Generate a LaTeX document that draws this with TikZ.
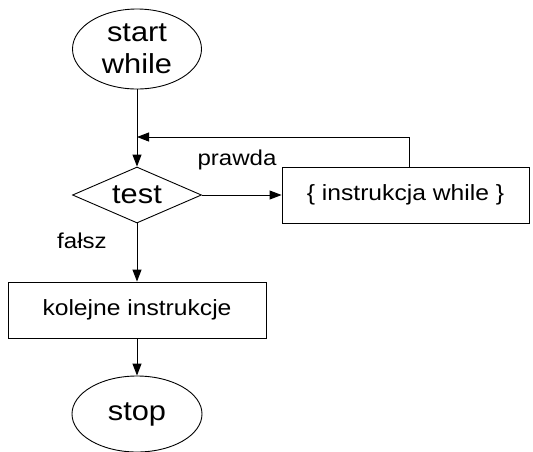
\documentclass[tikz,border=0pt]{standalone}
\usepackage{fontspec}
\setmainfont[FakeStretch=1.12]{Liberation Sans}
\usetikzlibrary{arrows.meta,shapes.geometric}

\tikzset{
  every node/.style={inner sep=0pt},
  terminal/.style={draw, ellipse, line width=0.9pt, font=\fontsize{27.5}{32}\selectfont, align=center},
  decision/.style={draw, diamond, aspect=2.3, line width=0.9pt, minimum width=129pt, minimum height=56pt, font=\fontsize{27.5}{32}\selectfont},
  process/.style={draw, rectangle, line width=0.9pt, minimum height=56pt, font=\fontsize{22}{26}\selectfont},
  edgelabel/.style={font=\fontsize{21.5}{25}\selectfont},
  flow/.style={line width=0.9pt, -{Triangle[length=12pt,width=9pt]}},
}

\begin{document}
\begin{tikzpicture}[x=1pt,y=-1pt]
  \useasboundingbox (0,0) rectangle (533,451);

  % flowchart blocks
  \node[terminal, minimum width=129pt, minimum height=80pt] (start) at (137,49) {start\\while};
  \node[decision] (test) at (137,195) {test};
  \node[process, minimum width=247pt] (body) at (405.5,195) {\{ instrukcja while \}};
  \node[process, minimum width=258pt] (next) at (137,310) {kolejne instrukcje};
  \node[terminal, minimum width=130pt, minimum height=76pt] (stop) at (137,414) {stop};

  % branch labels
  \node[edgelabel] (lbltrue) at (237,160) {prawda};
  \node[edgelabel] (lblfalse) at (82,241) {fałsz};

  % loop-back corner points
  \coordinate (loopR) at (409,137);
  \coordinate (loopL) at (137,137);

  % connectors
  \draw[flow] (start.south) -- (test.north);
  \draw[flow] (test.east) -- (body.west);
  \draw[flow] (body.north -| loopR) -- (loopR) -- (loopL);
  \draw[flow] (test.south) -- (next.north);
  \draw[flow] (next.south) -- (stop.north);
\end{tikzpicture}
\end{document}
